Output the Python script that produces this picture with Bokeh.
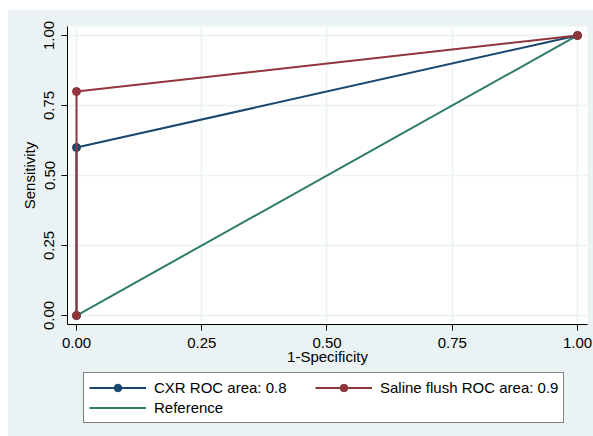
from bokeh.plotting import figure
from bokeh.models import Range1d, FixedTicker, Legend, LegendItem
from bokeh.layouts import column
from bokeh.embed import file_html
from bokeh.resources import INLINE

# ---- data ----
cxr_x = [0.0, 0.0, 1.0]
cxr_y = [0.0, 0.6, 1.0]
saline_x = [0.0, 0.0, 1.0]
saline_y = [0.0, 0.8, 1.0]
ref_x = [0.0, 1.0]
ref_y = [0.0, 1.0]
tick_values = [0.0, 0.25, 0.5, 0.75, 1.0]
tick_labels = ["0.00", "0.25", "0.50", "0.75", "1.00"]
series_names = ["CXR ROC area: 0.8", "Saline flush ROC area: 0.9", "Reference"]

BG = "#eaf2f3"
NAVY = "#1a476f"
MAROON = "#90353b"
TEAL = "#2e7b6a"
FONT = "Liberation Sans"

p = figure(width=585, height=360, output_backend="svg", toolbar_location=None,
           x_range=Range1d(-0.01796, 1.01996), y_range=Range1d(-0.0321, 1.0321),
           min_border_left=59, min_border_right=6, min_border_top=16, min_border_bottom=46)
p.background_fill_color = "white"
p.border_fill_color = BG
p.outline_line_color = None

r_ref = p.line(ref_x, ref_y, line_color=TEAL, line_width=2)
l_cxr = p.line(cxr_x, cxr_y, line_color=NAVY, line_width=2)
s_cxr = p.scatter(cxr_x, cxr_y, marker="circle", size=8, fill_color=NAVY, line_color=NAVY)
l_sal = p.line(saline_x, saline_y, line_color=MAROON, line_width=2)
s_sal = p.scatter(saline_x, saline_y, marker="circle", size=8, fill_color=MAROON, line_color=MAROON)

overrides = {v: t for v, t in zip(tick_values, tick_labels)}
for ax in (p.xaxis[0], p.yaxis[0]):
    ax.ticker = FixedTicker(ticks=tick_values)
    ax.major_label_overrides = overrides
    ax.minor_tick_line_color = None
    ax.major_tick_in = 0
    ax.major_tick_out = 6
    ax.major_tick_line_color = "black"
    ax.axis_line_color = "black"
    ax.major_label_text_font = FONT
    ax.major_label_text_font_size = "15px"
    ax.major_label_text_color = "black"
    ax.axis_label_text_font = FONT
    ax.axis_label_text_font_size = "15px"
    ax.axis_label_text_font_style = "normal"
    ax.axis_label_text_color = "black"

p.xaxis.axis_label = "1-Specificity"
p.yaxis.axis_label = "Sensitivity"
p.yaxis.major_label_orientation = "vertical"
p.xaxis.major_label_standoff = 7
p.xaxis.axis_label_standoff = -3
p.yaxis.major_label_standoff = 7
p.yaxis.axis_label_standoff = 4

for g in (p.xgrid[0], p.ygrid[0]):
    g.ticker = FixedTicker(ticks=tick_values)
    g.grid_line_color = BG
    g.grid_line_width = 1.5

# ---- legend strip below the plot (frames are aligned by the column) ----
lf = figure(width=585, height=66, output_backend="svg", toolbar_location=None,
            x_range=Range1d(-0.01796, 1.01996), y_range=Range1d(-0.0321, 1.0321),
            x_axis_location=None, y_axis_location=None, min_border=0)
lf.background_fill_color = BG
lf.border_fill_color = BG
lf.outline_line_color = None
lf.xgrid.visible = False
lf.ygrid.visible = False
d_l_cxr = lf.line(cxr_x, cxr_y, line_color=NAVY, line_width=2, visible=False)
d_s_cxr = lf.scatter(cxr_x, cxr_y, marker="circle", size=8, fill_color=NAVY, line_color=NAVY, visible=False)
d_l_sal = lf.line(saline_x, saline_y, line_color=MAROON, line_width=2, visible=False)
d_s_sal = lf.scatter(saline_x, saline_y, marker="circle", size=8, fill_color=MAROON, line_color=MAROON, visible=False)
d_ref = lf.line(ref_x, ref_y, line_color=TEAL, line_width=2, visible=False)

legend = Legend(items=[
    LegendItem(label=series_names[0], renderers=[d_l_cxr, d_s_cxr]),
    LegendItem(label=series_names[1], renderers=[d_l_sal, d_s_sal]),
    LegendItem(label=series_names[2], renderers=[d_ref]),
], ncols=2, orientation="horizontal", location=(16, 13))
legend.glyph_width = 57
legend.glyph_height = 19
legend.label_height = 19
legend.label_width = 160
legend.label_standoff = 8
legend.spacing = 1
legend.padding = 5
legend.margin = 0
legend.inactive_fill_alpha = 0
legend.border_line_color = "black"
legend.border_line_width = 1
legend.background_fill_color = "white"
legend.background_fill_alpha = 1
legend.label_text_font = FONT
legend.label_text_font_size = "15px"
legend.label_text_color = "black"
lf.add_layout(legend, "center")

layout = column(p, lf, spacing=0, margin=(10, 0, 0, 8), styles={"background-color": BG})
open("out.html", "w").write(file_html(layout, INLINE))
